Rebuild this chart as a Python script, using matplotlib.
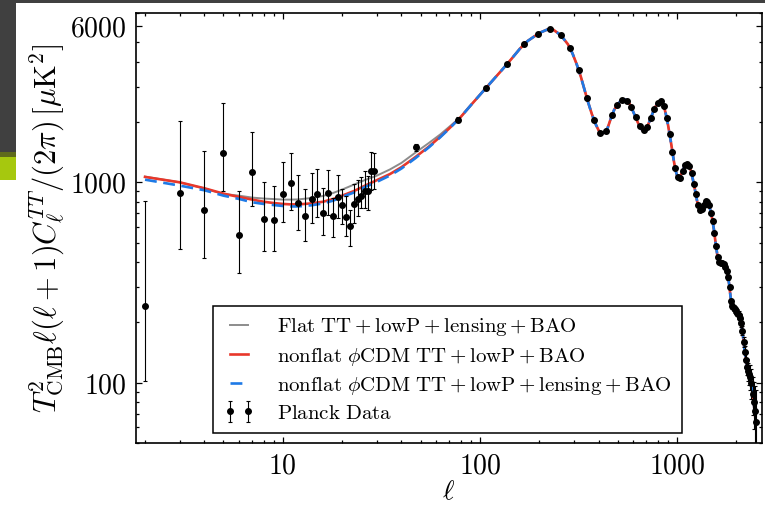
import matplotlib
matplotlib.use("Agg")
import matplotlib.pyplot as plt
import numpy as np
from matplotlib.ticker import FixedLocator, LogLocator, NullFormatter, FuncFormatter
from matplotlib.patches import Rectangle

plt.rcParams['mathtext.fontset'] = 'cm'
plt.rcParams['font.family'] = ['DejaVu Serif']

# ---------------- data ----------------
ell_low = [2, 3, 4, 5, 6, 7, 8, 9, 10, 11, 12, 13, 14, 15, 16, 17, 18, 19, 20,
           21, 22, 23, 24, 25, 26, 27, 28, 29]
D_low = [242, 889, 731, 1396, 544, 1127, 659, 652, 879, 989, 786, 680, 830, 879,
         706, 885, 682, 846, 768, 674, 604, 777, 826, 852, 906, 902, 1144, 1144]
D_low_lower = [102, 464, 421, 902, 351, 759, 456, 456, 632, 731, 581, 512, 627, 672,
               544, 685, 535, 661, 622, 538, 483, 627, 677, 742, 745, 731, 919, 927]
D_low_upper = [804, 2031, 1435, 2477, 902, 1782, 1000, 963, 1268, 1401, 1088, 931, 1114,
               1170, 933, 1157, 839, 1088, 931, 852, 731, 982, 1031, 1064, 1144, 1080,
               1412, 1401]

ell_bin = [47.5, 77.5, 107.5, 137.5, 167.5, 197.5, 227.5, 257.5, 287.5, 317.5,
           347.5, 377.5, 407.5, 437.5, 467.5, 497.5, 527.5, 557.5, 587.5, 617.5,
           647.5, 677.5, 707.5, 737.5, 767.5, 797.5, 827.5, 857.5, 887.5, 917.5,
           947.5, 977.5, 1007.5, 1037.5, 1067.5, 1097.5, 1127.5, 1157.5, 1187.5, 1217.5,
           1247.5, 1277.5, 1307.5, 1337.5, 1367.5, 1397.5, 1427.5, 1457.5, 1487.5, 1517.5,
           1547.5, 1577.5, 1607.5, 1637.5, 1667.5, 1697.5, 1727.5, 1757.5, 1787.5, 1817.5,
           1847.5, 1877.5, 1907.5, 1937.5, 1967.5, 1997.5, 2027.5, 2057.5, 2087.5, 2117.5,
           2147.5, 2177.5, 2207.5, 2237.5, 2267.5, 2297.5, 2327.5, 2357.5, 2387.5, 2417.5,
           2447.5, 2477.5, 2507.5]
D_bin = [1500, 2055, 2960, 3890, 4920, 5500, 5820, 5410, 4660, 3620,
         2640, 2040, 1765, 1800, 2180, 2435, 2590, 2560, 2380, 2110,
         1900, 1815, 1890, 2100, 2320, 2480, 2535, 2395, 2095, 1745,
         1420, 1178, 1065, 1050, 1140, 1215, 1230, 1200, 1110, 980,
         870, 770, 730, 740, 775, 810, 800, 770, 700, 640,
         560, 480, 425, 400, 395, 395, 392, 380, 360, 335,
         300, 255, 242, 237, 232, 228, 224, 218, 210, 198,
         182, 160, 142, 130, 120, 114, 110, 107, 100, 88,
         80, 72, 64]
D_bin_err = [60, 58, 62, 68, 72, 74, 72, 66, 58, 48,
             40, 34, 30, 30, 30, 30, 30, 28, 26, 24,
             22, 22, 22, 24, 25, 25, 25, 24, 22, 20,
             18, 16, 14, 14, 14, 14, 14, 13, 12, 12,
             11, 10, 10, 10, 10, 10, 10, 10, 10, 9,
             9, 8, 8, 8, 8, 8, 8, 8, 8, 8,
             8, 8, 8, 8, 8, 8, 8, 9, 9, 9,
             9, 10, 10, 11, 11, 12, 13, 15, 17, 19,
             21, 24, 28]

# model curves: low-ell parts differ, high-ell part shared
ell_model_low = [2, 3, 4, 5, 6, 7, 8, 9, 10, 11, 12, 14, 16, 18, 20, 23, 26, 30, 35,
                 40, 47, 55, 63, 70]
red_low = [1064, 1000, 934, 878, 845, 820, 800, 788, 780, 776, 776, 785, 800, 825, 858,
           905, 960, 1025, 1100, 1190, 1335, 1505, 1690, 1860]
blue_low = [1031, 963, 913, 858, 826, 795, 780, 770, 762, 758, 758, 768, 785, 810, 846,
            890, 945, 1005, 1082, 1172, 1318, 1492, 1680, 1855]
gray_low = [1068, 1000, 932, 875, 858, 839, 830, 825, 820, 820, 822, 835, 855, 885, 920,
            975, 1025, 1080, 1160, 1250, 1405, 1570, 1735, 1895]

ell_model_high = [80, 90, 100, 115, 130, 145, 160, 175, 190, 205, 220, 235, 250, 265, 280,
                  295, 310, 325, 340, 355, 370, 385, 400, 415, 430, 445, 460, 480, 500,
                  520, 540, 560, 580, 600, 620, 640, 660, 680, 700, 720, 740, 760, 780,
                  800, 820, 840, 860, 880, 900, 920, 940, 960, 980, 1000, 1030, 1060,
                  1090, 1120, 1150, 1180, 1210, 1240, 1270, 1300, 1330, 1360, 1390, 1420,
                  1450, 1480, 1510, 1540, 1570, 1600, 1630, 1660, 1690, 1720, 1750, 1780,
                  1810, 1840, 1870, 1900, 1950, 2000, 2050, 2100, 2150, 2200, 2250, 2300,
                  2350, 2400, 2450, 2500, 2508]
D_model_high = [2120, 2427, 2731, 3191, 3656, 4143, 4656, 5080, 5370, 5620, 5790, 5790,
                5540, 5230, 4880, 4400, 3880, 3375, 2885, 2490, 2190, 1970, 1820, 1755,
                1770, 1870, 2060, 2300, 2450, 2565, 2600, 2560, 2430, 2250, 2085, 1940,
                1840, 1815, 1855, 1980, 2120, 2270, 2400, 2490, 2530, 2500, 2380, 2170,
                1940, 1715, 1500, 1310, 1165, 1085, 1050, 1120, 1200, 1232, 1215, 1135,
                1010, 895, 790, 740, 735, 765, 803, 805, 780, 720, 655, 580, 498, 437,
                405, 396, 396, 393, 385, 366, 342, 310, 268, 245, 235, 228, 220, 206,
                180, 146, 126, 114, 108, 96, 80, 66, 64]

labels = [r'$\mathrm{Flat\ TT+lowP+lensing+BAO}$',
          r'$\mathrm{nonflat\ }\phi\mathrm{CDM\ TT+lowP+BAO}$',
          r'$\mathrm{nonflat\ }\phi\mathrm{CDM\ TT+lowP+lensing+BAO}$',
          r'$\mathrm{Planck\ Data}$']

# ---------------- figure ----------------
W, H = 765, 505
fig = plt.figure(figsize=(W / 100, H / 100), dpi=100)
ax = fig.add_axes([136 / W, 1 - 443 / H, (762 - 136) / W, (443 - 13) / H])

ell_m = ell_model_low + ell_model_high
ax.plot(ell_m, gray_low + D_model_high, color='#8c8c8c', lw=1.4, label=labels[0], zorder=2)
ax.plot(ell_m, red_low + D_model_high, color='#e8372a', lw=1.9, label=labels[1], zorder=3)
ax.plot(ell_m, blue_low + D_model_high, color='#1e7ae6', lw=1.9, ls=(0, (4.5, 2.5)),
        label=labels[2], zorder=4)

D_low_a = np.array(D_low)
yerr_low = [D_low_a - np.array(D_low_lower), np.array(D_low_upper) - D_low_a]
ax.errorbar(ell_low, D_low, yerr=yerr_low, fmt='o', color='black', ms=4,
            elinewidth=0.8, capsize=1.6, capthick=0.8, zorder=5, label=labels[3])
ax.errorbar(ell_bin, D_bin, yerr=D_bin_err, fmt='o', color='black', ms=4,
            elinewidth=0.8, capsize=1.6, capthick=0.8, zorder=5)

ax.set_xscale('log')
ax.set_yscale('log')
ax.set_xlim(1.8, 2700)
ax.set_ylim(50, 7000)

ax.xaxis.set_major_locator(FixedLocator([10, 100, 1000]))
ax.xaxis.set_minor_locator(LogLocator(base=10, subs=np.arange(2, 10), numticks=20))
ax.yaxis.set_major_locator(FixedLocator([100, 1000, 6000]))
ax.yaxis.set_minor_locator(LogLocator(base=10, subs=np.arange(2, 10), numticks=20))
fmt = FuncFormatter(lambda v, p: r'$%d$' % int(round(v)))
ax.xaxis.set_major_formatter(fmt)
ax.yaxis.set_major_formatter(fmt)
ax.xaxis.set_minor_formatter(NullFormatter())
ax.yaxis.set_minor_formatter(NullFormatter())

ax.tick_params(which='both', direction='in', top=True, right=True, width=0.9)
ax.tick_params(which='major', length=4.5, labelsize=20, pad=7)
ax.tick_params(which='minor', length=2.5)
for s in ax.spines.values():
    s.set_linewidth(1.2)

ax.set_xlabel(r'$\ell$', fontsize=20, labelpad=-1)
ax.set_ylabel(r'$T^2_{\rm CMB}\ell(\ell+1)C_\ell^{TT}/(2\pi)\,[\mu{\rm K}^2]$',
              fontsize=22, labelpad=2)

leg = ax.legend(loc='lower left', bbox_to_anchor=(0.123, 0.023), borderaxespad=0,
                fontsize=15, numpoints=2, fancybox=False, framealpha=1,
                edgecolor='black', handlelength=1.5, handletextpad=1.05,
                labelspacing=0.34, borderpad=0.5)
leg.get_frame().set_linewidth(1.1)

# screenshot decorations around the figure
fig.add_artist(Rectangle((0, 1 - 3 / H), 1, 3 / H, transform=fig.transFigure,
                         color='#404040', lw=0, zorder=10))
fig.add_artist(Rectangle((0, 1 - 152 / H), 16 / W, 152 / H, transform=fig.transFigure,
                         color='#404040', lw=0, zorder=10))
fig.add_artist(Rectangle((0, 1 - 157 / H), 16 / W, 5 / H, transform=fig.transFigure,
                         color='#5f6b1c', lw=0, zorder=10))
fig.add_artist(Rectangle((0, 1 - 180 / H), 16 / W, 23 / H, transform=fig.transFigure,
                         color='#a6c80e', lw=0, zorder=10))

fig.savefig('out.png', dpi=100)
